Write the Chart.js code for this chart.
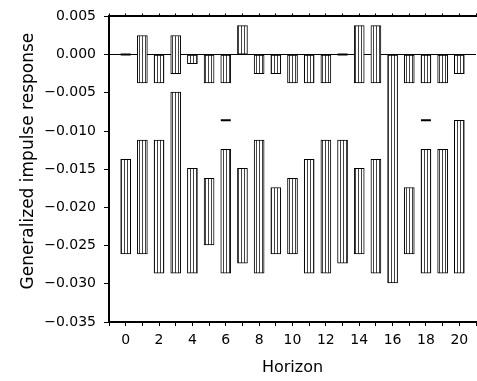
<!DOCTYPE html>
<html><head><meta charset="utf-8">
<script src="https://cdn.jsdelivr.net/npm/chart.js@4"></script>
<style>html,body{margin:0;padding:0;background:#fff}</style>
</head><body>
<canvas id="c" width="477" height="381"></canvas>
<script>
const horizons = [0,1,2,3,4,5,6,7,8,9,10,11,12,13,14,15,16,17,18,19,20];
const upperTop    = [null, 0.0025, 0, 0.0025, 0, 0, 0, 0.0038, 0, 0, 0, 0, 0, null, 0.0038, 0.0038, 0, 0, 0, 0, 0];
const upperBottom = [null, -0.0037, -0.0037, -0.0025, -0.0012, -0.0037, -0.0037, 0, -0.0025, -0.0025, -0.0037, -0.0037, -0.0037, null, -0.0037, -0.0037, -0.0299, -0.0037, -0.0037, -0.0037, -0.0025];
const lowerTop    = [-0.0137, -0.0112, -0.0112, -0.0049, -0.0149, -0.0162, -0.0124, -0.0149, -0.0112, -0.0174, -0.0162, -0.0137, -0.0112, -0.0112, -0.0149, -0.0137, null, -0.0174, -0.0124, -0.0124, -0.0086];
const lowerBottom = [-0.0261, -0.0261, -0.0286, -0.0286, -0.0286, -0.0249, -0.0286, -0.0273, -0.0286, -0.0261, -0.0261, -0.0286, -0.0286, -0.0273, -0.0261, -0.0286, null, -0.0261, -0.0286, -0.0286, -0.0286];
const markHorizon = [0, 6, 13, 18];
const markValue   = [0, -0.0086, 0, -0.0086];
const yMin = -0.035, yMax = 0.005, yStep = 0.005;
const xMin = -1, xMax = 21;
const xTitle = 'Horizon';
const yTitle = 'Generalized impulse response';

const canvas = document.getElementById('c');
const ctx = canvas.getContext('2d');
const pc = document.createElement('canvas');
pc.width = 3; pc.height = 4;
const pg = pc.getContext('2d');
pg.fillStyle = '#fff'; pg.fillRect(0,0,3,4);
pg.fillStyle = '#444'; pg.fillRect(1,0,1,4);
const hatch = ctx.createPattern(pc, 'repeat');

function bars(tops, bottoms) {
  const out = [];
  horizons.forEach((h, i) => {
    if (tops[i] !== null && bottoms[i] !== null) out.push({x: h, y: [bottoms[i], tops[i]]});
  });
  return out;
}
const barStyle = {
  backgroundColor: hatch, borderColor: '#000', borderWidth: 1,
  borderSkipped: false, barThickness: 10, grouped: false
};
const FONT = 'DejaVu Sans';
function fixH(h) { return s => { s.height = h; s.paddingLeft = 0; s.paddingRight = 0; }; }

new Chart(ctx, {
  type: 'bar',
  data: {
    datasets: [
      Object.assign({label: 'upper', data: bars(upperTop, upperBottom)}, barStyle),
      Object.assign({label: 'lower', data: bars(lowerTop, lowerBottom)}, barStyle),
      {type: 'scatter', label: 'mark', data: markHorizon.map((h, i) => ({x: h, y: markValue[i]})),
       pointStyle: 'line', radius: 5, borderWidth: 2, borderColor: '#000', showLine: false}
    ]
  },
  options: {
    responsive: false, animation: false,
    layout: {autoPadding: false, padding: {right: 1, left: 0, top: 0, bottom: 0}},
    plugins: {legend: {display: false}, tooltip: {enabled: false}},
    scales: {
      x: {
        type: 'linear', position: 'bottom', min: xMin, max: xMax, offset: false,
        afterFit: fixH(59),
        ticks: {stepSize: 1, autoSkip: false, maxRotation: 0, color: '#000', padding: 6,
          font: {family: FONT, size: 14},
          callback: v => (v >= 0 && v <= 20 && v % 2 === 0) ? String(v) : ''},
        grid: {display: true, drawOnChartArea: false, drawTicks: true, tickLength: 4, offset: false, color: '#000', tickColor: '#000'},
        border: {display: true, color: '#000', width: 2},
        title: {display: true, text: xTitle, color: '#000', font: {family: FONT, size: 16}, padding: {top: 0, bottom: 4}}
      },
      xTop: {
        type: 'linear', position: 'top', min: xMin, max: xMax, offset: false,
        afterFit: fixH(15),
        ticks: {stepSize: 1, autoSkip: false, display: true, callback: () => '', font: {size: 1}, padding: 0},
        grid: {display: true, drawOnChartArea: false, drawTicks: true, tickLength: 3, offset: false, color: '#000', tickColor: '#000'},
        border: {display: true, color: '#000', width: 2}
      },
      y: {
        type: 'linear', min: yMin, max: yMax,
        afterFit: s => { s.width = 109; },
        ticks: {stepSize: yStep, color: '#000', padding: 8, font: {family: FONT, size: 14},
          callback: v => (v < -1e-9 ? '\u2212' : '') + Math.abs(v).toFixed(3)},
        grid: {display: true, drawOnChartArea: true, drawTicks: true, tickLength: 5, lineWidth: 1,
          color: c => (c.tick && Math.abs(c.tick.value) < 1e-9) ? '#000' : 'rgba(0,0,0,0)', tickColor: '#000'},
        border: {display: true, color: '#000', width: 2},
        title: {display: true, text: '\u00a0\u00a0\u00a0' + yTitle, color: '#000', font: {family: FONT, size: 17}, padding: {top: 18, bottom: 0}}
      }
    }
  }
});
</script>
</body></html>
